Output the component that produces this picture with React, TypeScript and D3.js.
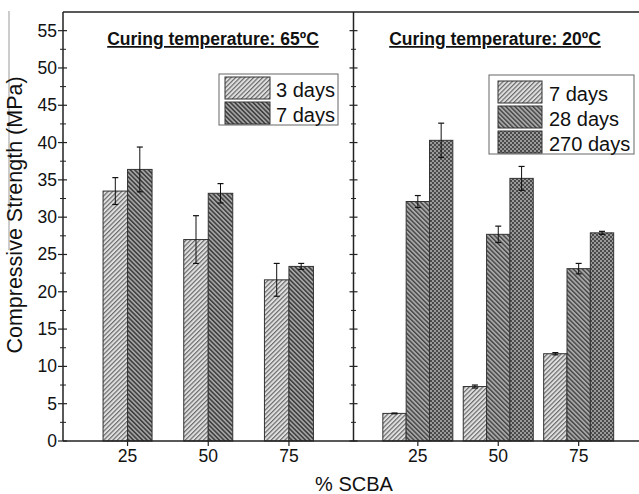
import React from "react";
import * as d3 from "d3";

// % SCBA replacement levels
const pct = [25, 50, 75];

// Curing at 65 ºC
const hot3 = [33.5, 27.0, 21.6];
const hot3Err = [1.8, 3.2, 2.2];
const hot7 = [36.4, 33.2, 23.4];
const hot7Err = [3.0, 1.3, 0.4];

// Curing at 20 ºC
const cold7 = [3.7, 7.3, 11.7];
const cold7Err = [0.05, 0.2, 0.15];
const cold28 = [32.1, 27.7, 23.1];
const cold28Err = [0.8, 1.1, 0.7];
const cold270 = [40.3, 35.2, 27.9];
const cold270Err = [2.3, 1.6, 0.2];

const yTicks = [0, 5, 10, 15, 20, 25, 30, 35, 40, 45, 50, 55];
const yMinor = d3.range(2.5, 57.5, 5);

const W = 639;
const H = 494;
const left = 63;
const divider = 353.5;
const rightEdge = 643;
const top = 12;
const bottom = 441;

const font = "'Liberation Sans', Arial, sans-serif";

const y = d3.scaleLinear().domain([0, 57.5]).range([bottom, top]);
const xHot = d3.scalePoint<number>().domain(pct).range([left, divider]).padding(0.8);
const xCold = d3.scalePoint<number>().domain(pct).range([divider, rightEdge]).padding(0.8);

type Series = { key: string; label: string; values: number[]; err: number[]; fill: string };

const hotSeries: Series[] = [
  { key: "h3", label: "3 days", values: hot3, err: hot3Err, fill: "url(#pLight)" },
  { key: "h7", label: "7 days", values: hot7, err: hot7Err, fill: "url(#pDark)" },
];
const coldSeries: Series[] = [
  { key: "c7", label: "7 days", values: cold7, err: cold7Err, fill: "url(#pLight)" },
  { key: "c28", label: "28 days", values: cold28, err: cold28Err, fill: "url(#pMid)" },
  { key: "c270", label: "270 days", values: cold270, err: cold270Err, fill: "url(#pCheck)" },
];

function Bars({ series, x, groupW }: { series: Series[]; x: d3.ScalePoint<number>; groupW: number }) {
  const sub = d3
    .scaleBand<string>()
    .domain(series.map((s) => s.key))
    .range([-groupW / 2, groupW / 2]);
  const bw = sub.bandwidth();
  return (
    <g>
      {series.map((s) =>
        pct.map((p, i) => {
          const x0 = (x(p) as number) + (sub(s.key) as number);
          const v = s.values[i];
          const e = s.err[i];
          const cx = x0 + bw / 2;
          return (
            <g key={s.key + p}>
              <rect
                x={x0}
                y={y(v)}
                width={bw}
                height={y(0) - y(v)}
                fill={s.fill}
                stroke="#333"
                strokeWidth={1}
              />
              <line x1={cx} x2={cx} y1={y(v + e)} y2={y(v - e)} stroke="#111" strokeWidth={1} />
              <line x1={cx - 3} x2={cx + 3} y1={y(v + e)} y2={y(v + e)} stroke="#111" strokeWidth={1.2} />
              <line x1={cx - 3} x2={cx + 3} y1={y(v - e)} y2={y(v - e)} stroke="#111" strokeWidth={1.2} />
            </g>
          );
        })
      )}
    </g>
  );
}

function Legend({ series, x, yTop, yBottom, swTop, w, swX, swW, textX }: {
  series: Series[]; x: number; yTop: number; yBottom: number; swTop: number; w: number;
  swX: number; swW: number; textX: number;
}) {
  const rowH = 25;
  return (
    <g>
      <rect x={x} y={yTop} width={w} height={yBottom - yTop} fill="#fff" stroke="#666" strokeWidth={1} />
      {series.map((s, i) => {
        const ry = swTop + i * rowH;
        return (
          <g key={s.key}>
            <rect x={swX} y={ry} width={swW} height={22} fill={s.fill} stroke="#333" strokeWidth={1} />
            <text x={textX} y={ry + 20} fontSize={20} fontFamily={font} fill="#111">
              {s.label}
            </text>
          </g>
        );
      })}
    </g>
  );
}

export default function App() {
  return (
    <svg
      width={W}
      height={H}
      viewBox={`0 0 ${W} ${H}`}
      style={{ position: "absolute", left: 0, top: 0, background: "#fff" }}
    >
      <defs>
        <pattern id="pLight" width={3.2} height={3.2} patternUnits="userSpaceOnUse" patternTransform="rotate(45)">
          <rect width={3.2} height={3.2} fill="#e0e0e0" />
          <rect width={1.2} height={3.2} fill="#6a6a6a" />
        </pattern>
        <pattern id="pDark" width={3.2} height={3.2} patternUnits="userSpaceOnUse" patternTransform="rotate(-45)">
          <rect width={3.2} height={3.2} fill="#a4a4a4" />
          <rect width={1.5} height={3.2} fill="#3c3c3c" />
        </pattern>
        <pattern id="pMid" width={3.2} height={3.2} patternUnits="userSpaceOnUse" patternTransform="rotate(-45)">
          <rect width={3.2} height={3.2} fill="#a8a8a8" />
          <rect width={1.4} height={3.2} fill="#444" />
        </pattern>
        <pattern id="pCheck" width={4} height={4} patternUnits="userSpaceOnUse">
          <rect width={4} height={4} fill="#4a4a4a" />
          <rect x={0} y={0} width={2} height={2} fill="#9a9a9a" />
          <rect x={2} y={2} width={2} height={2} fill="#9a9a9a" />
        </pattern>
      </defs>

      {/* stray margin rule on the far left */}
      <line x1={9} x2={9} y1={11} y2={250} stroke="#999" strokeWidth={1} />

      {/* bars */}
      <Bars series={hotSeries} x={xHot} groupW={49} />
      <Bars series={coldSeries} x={xCold} groupW={70} />

      {/* frame */}
      <line x1={left} x2={W} y1={top} y2={top} stroke="#222" strokeWidth={1.5} />
      <line x1={left} x2={W} y1={bottom} y2={bottom} stroke="#222" strokeWidth={1.5} />
      <line x1={left} x2={left} y1={top} y2={bottom} stroke="#222" strokeWidth={1.5} />
      <line x1={divider} x2={divider} y1={top} y2={bottom} stroke="#222" strokeWidth={1.5} />

      {/* y ticks on left axis and divider */}
      {yTicks.map((t) => (
        <g key={"yt" + t}>
          <line x1={left - 5} x2={left + 4} y1={y(t)} y2={y(t)} stroke="#222" strokeWidth={1.2} />
          <line x1={divider - 4} x2={divider + 4} y1={y(t)} y2={y(t)} stroke="#222" strokeWidth={1.2} />
          <text
            x={left - 6}
            y={y(t) + 6}
            textAnchor="end"
            fontSize={17.5}
            fontFamily={font}
            fill="#111"
          >
            {t}
          </text>
        </g>
      ))}
      {yMinor.map((t) => (
        <g key={"ym" + t}>
          <line x1={left - 3} x2={left + 3} y1={y(t)} y2={y(t)} stroke="#222" strokeWidth={1} />
          <line x1={divider - 2.5} x2={divider + 2.5} y1={y(t)} y2={y(t)} stroke="#222" strokeWidth={1} />
        </g>
      ))}

      {/* x ticks */}
      {[xHot, xCold].map((sx, k) =>
        pct.map((p) => (
          <g key={"xt" + k + p}>
            <line x1={sx(p)} x2={sx(p)} y1={bottom} y2={bottom + 5} stroke="#222" strokeWidth={1.2} />
            <text x={sx(p)} y={462} textAnchor="middle" fontSize={17.5} fontFamily={font} fill="#111">
              {p}
            </text>
          </g>
        ))
      )}

      {/* panel titles */}
      <text
        x={213}
        y={45}
        textAnchor="middle"
        fontSize={17.5}
        fontWeight="bold"
        fontFamily={font}
        fill="#111"
        style={{ textDecoration: "underline" }}
      >
        Curing temperature: 65ºC
      </text>
      <text
        x={495}
        y={45}
        textAnchor="middle"
        fontSize={17.5}
        fontWeight="bold"
        fontFamily={font}
        fill="#111"
        style={{ textDecoration: "underline" }}
      >
        Curing temperature: 20ºC
      </text>

      {/* legends */}
      <Legend series={hotSeries} x={219} yTop={74} yBottom={125} swTop={77} w={119} swX={225} swW={45} textX={276} />
      <Legend series={coldSeries} x={489} yTop={75} yBottom={154} swTop={81} w={145} swX={498} swW={44} textX={549} />

      {/* axis titles */}
      <text
        transform="translate(22, 215) rotate(-90)"
        textAnchor="middle"
        fontSize={21.5}
        fontFamily={font}
        fill="#111"
      >
        Compressive Strength (MPa)
      </text>
      <text x={354} y={491} textAnchor="middle" fontSize={20} fontFamily={font} fill="#111">
        % SCBA
      </text>
    </svg>
  );
}
